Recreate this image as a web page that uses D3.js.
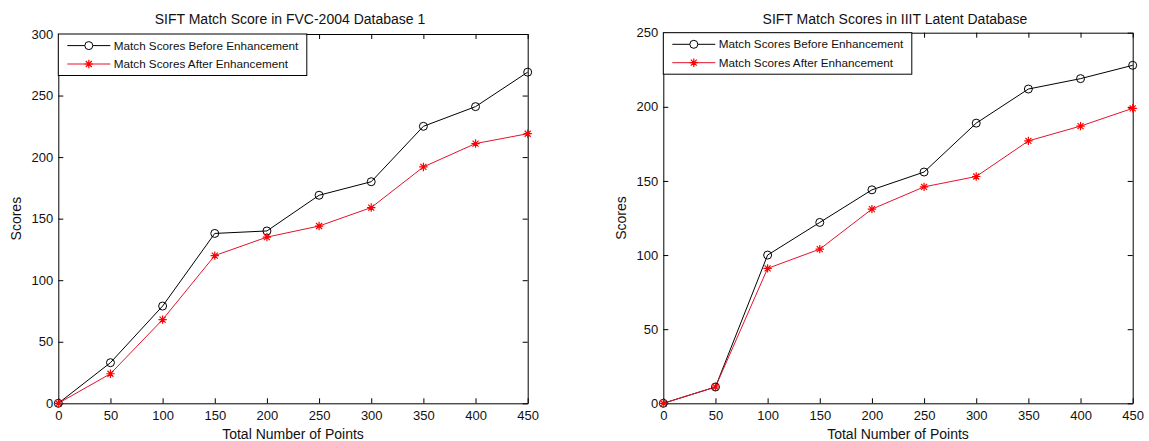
<!DOCTYPE html>
<html>
<head>
<meta charset="utf-8">
<script src="https://cdn.jsdelivr.net/npm/d3@7"></script>
<style>
  html, body { margin: 0; padding: 0; background: #fff; }
  svg { display: block; font-family: "Liberation Sans", Arial, Helvetica, sans-serif; }
</style>
</head>
<body>
<svg id="chart" width="1149" height="441"></svg>
<script>
// ---- data ----
const points = [0, 50, 100, 150, 200, 250, 300, 350, 400, 450];

const fvcBefore = [0, 33, 79, 138, 140, 169, 180, 225, 241, 269];
const fvcAfter  = [0, 24, 68, 120, 135, 144, 159, 192, 211, 219];

const iiitBefore = [0, 11, 100, 122, 144, 156, 189, 212, 219, 228];
const iiitAfter  = [0, 11, 91, 104, 131, 146, 153, 177, 187, 199];

const xTicks = [0, 50, 100, 150, 200, 250, 300, 350, 400, 450];
const fvcYTicks = [0, 50, 100, 150, 200, 250, 300];
const iiitYTicks = [0, 50, 100, 150, 200, 250];

const titles = ["SIFT Match Score in FVC-2004 Database 1", "SIFT Match Scores in IIIT Latent Database"];
const xLabel = "Total Number of Points";
const yLabel = "Scores";
const legendLabels = ["Match Scores Before Enhancement", "Match Scores After Enhancement"];

// ---- layout ----
const panels = [
  { x0: 58.3, x1: 527.7, y0: 34, y1: 403.3, yMax: 300, yTicks: fvcYTicks, before: fvcBefore, after: fvcAfter, title: titles[0] },
  { x0: 663.3, x1: 1132.7, y0: 32.7, y1: 403.3, yMax: 250, yTicks: iiitYTicks, before: iiitBefore, after: iiitAfter, title: titles[1] }
];

const svg = d3.select("#chart");
const RED = "#ff0000";
const REDLINE = "#e3132d";

function starPath(cx, cy) {
  const a = 4.2, d = 3.0;
  return `M${cx - a},${cy}L${cx + a},${cy}M${cx},${cy - a}L${cx},${cy + a}` +
         `M${cx - d},${cy - d}L${cx + d},${cy + d}M${cx - d},${cy + d}L${cx + d},${cy - d}`;
}

panels.forEach(p => {
  const g = svg.append("g");
  const x = d3.scaleLinear().domain([0, 450]).range([p.x0, p.x1]);
  const y = d3.scaleLinear().domain([0, p.yMax]).range([p.y1, p.y0]);

  // frame background
  g.append("rect").attr("x", p.x0).attr("y", p.y0)
    .attr("width", p.x1 - p.x0).attr("height", p.y1 - p.y0)
    .attr("fill", "#fff");

  // axes
  const bottom = g.append("g").attr("transform", `translate(0,${p.y1})`)
    .call(d3.axisBottom(x).tickValues(xTicks).tickSizeInner(-5).tickSizeOuter(0).tickPadding(7.5).tickFormat(d3.format("d")));
  const top = g.append("g").attr("transform", `translate(0,${p.y0})`)
    .call(d3.axisTop(x).tickValues(xTicks).tickSizeInner(-5).tickSizeOuter(0).tickFormat(""));
  const left = g.append("g").attr("transform", `translate(${p.x0},0)`)
    .call(d3.axisLeft(y).tickValues(p.yTicks).tickSizeInner(-5).tickSizeOuter(0).tickPadding(5).tickFormat(d3.format("d")));
  const right = g.append("g").attr("transform", `translate(${p.x1},0)`)
    .call(d3.axisRight(y).tickValues(p.yTicks).tickSizeInner(-5).tickSizeOuter(0).tickFormat(""));

  [bottom, top, left, right].forEach(a => {
    a.selectAll("path.domain").attr("stroke", "#000").attr("stroke-width", 1);
    a.selectAll(".tick line").attr("stroke", "#000").attr("stroke-width", 1);
    a.selectAll("text").attr("fill", "#111").style("font-size", "13px")
      .style("font-family", "'Liberation Sans', Arial, sans-serif");
  });

  // lines
  const line = d3.line().x((d, i) => x(points[i])).y(d => y(d));
  g.append("path").datum(p.before).attr("d", line)
    .attr("fill", "none").attr("stroke", "#000").attr("stroke-width", 1);
  g.append("path").datum(p.after).attr("d", line)
    .attr("fill", "none").attr("stroke", REDLINE).attr("stroke-width", 1);

  // markers
  g.selectAll("circle.before").data(p.before).enter().append("circle")
    .attr("class", "before")
    .attr("cx", (d, i) => x(points[i])).attr("cy", d => y(d)).attr("r", 4)
    .attr("fill", "none").attr("stroke", "#000").attr("stroke-width", 1);
  g.selectAll("path.after").data(p.after).enter().append("path")
    .attr("class", "after")
    .attr("d", (d, i) => starPath(x(points[i]), y(d)))
    .attr("fill", "none").attr("stroke", RED).attr("stroke-width", 1.2);

  // title
  g.append("text").attr("x", (p.x0 + p.x1) / 2 - 3).attr("y", 24)
    .attr("text-anchor", "middle").style("font-size", "14px").attr("fill", "#111")
    .text(p.title);

  // x label
  g.append("text").attr("x", (p.x0 + p.x1) / 2).attr("y", 438.5)
    .attr("text-anchor", "middle").style("font-size", "14px").attr("fill", "#111")
    .text(xLabel);

  // y label
  g.append("text")
    .attr("transform", `translate(${p.x0 - 37},${(p.y0 + p.y1) / 2}) rotate(-90)`)
    .attr("text-anchor", "middle").style("font-size", "14px").attr("fill", "#111")
    .text(yLabel);

  // legend
  const lg = g.append("g").attr("transform", `translate(${p.x0},${p.y0})`);
  lg.append("rect").attr("x", 0).attr("y", 0).attr("width", 248.5).attr("height", 41.5)
    .attr("fill", "#fff").attr("stroke", "#000").attr("stroke-width", 1);
  const rows = [11.6, 30];
  // before row
  lg.append("line").attr("x1", 9).attr("x2", 52).attr("y1", rows[0]).attr("y2", rows[0])
    .attr("stroke", "#000").attr("stroke-width", 1);
  lg.append("circle").attr("cx", 30.5).attr("cy", rows[0]).attr("r", 4)
    .attr("fill", "#fff").attr("stroke", "#000").attr("stroke-width", 1);
  lg.append("text").attr("x", 55.5).attr("y", rows[0]).attr("dy", "0.36em")
    .style("font-size", "11.7px").attr("fill", "#111").text(legendLabels[0]);
  // after row
  lg.append("line").attr("x1", 9).attr("x2", 52).attr("y1", rows[1]).attr("y2", rows[1])
    .attr("stroke", REDLINE).attr("stroke-width", 1);
  lg.append("path").attr("d", starPath(30.5, rows[1]))
    .attr("fill", "none").attr("stroke", RED).attr("stroke-width", 1.2);
  lg.append("text").attr("x", 55.5).attr("y", rows[1]).attr("dy", "0.36em")
    .style("font-size", "11.7px").attr("fill", "#111").text(legendLabels[1]);
});
</script>
</body>
</html>
